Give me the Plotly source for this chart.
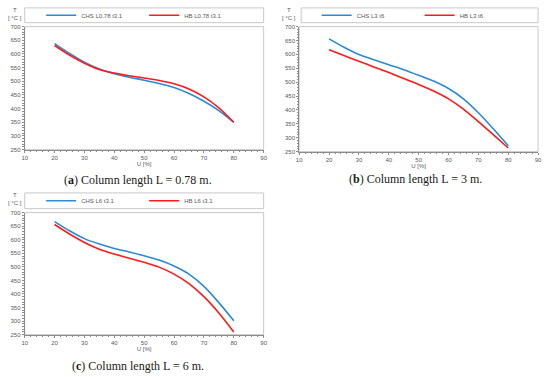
import plotly.graph_objects as go

U = [20, 25, 30, 35, 40, 45, 50, 55, 60, 65, 70, 75, 80]

# Panel (a) L = 0.78 m
chs_a = [638, 602, 570, 545, 528, 515, 504, 492, 477, 455, 427, 393, 350]
hb_a = [631, 596, 566, 543, 530, 520, 512, 503, 491, 472, 443, 403, 350]
# Panel (b) L = 3 m
chs_b = [656, 626, 600, 581, 563, 545, 525, 504, 477, 440, 390, 332, 271]
hb_b = [617, 596, 575, 555, 535, 513, 492, 468, 440, 403, 358, 311, 263]
# Panel (c) L = 6 m
chs_c = [667, 633, 604, 584, 568, 555, 541, 525, 503, 473, 428, 368, 301]
hb_c = [656, 621, 590, 565, 547, 532, 517, 499, 473, 438, 390, 330, 260]

names = [("CHS L0.78 t3.1", "HB L0.78 t3.1"),
         ("CHS L3 t6", "HB L3 t6"),
         ("CHS L6 t3.1", "HB L6 t3.1")]
captions = ["(<b>a</b>) Column length L = 0.78 m.",
            "(<b>b</b>) Column length L = 3 m.",
            "(<b>c</b>) Column length L = 6 m."]

x_ticks = list(range(10, 100, 10))
y_ticks = list(range(250, 750, 50))

W, H = 550, 377
BLUE = "#2a8ad8"
RED = "#ff1a1a"

# pixel layout: (x0, x1, ytop, ybottom) of plot areas
areas = [(22, 264, 24, 149), (300, 542, 24, 151), (22, 264, 213, 337)]
legend_boxes = [(22, 264, 5, 20), (302, 542, 5, 20), (22, 264, 193, 209)]
caption_pos = [(137, 180), (418, 179), (137, 369)]

def px(x):
    return x / W

def py(y):
    return 1 - y / H

fig = go.Figure()
data = [(chs_a, hb_a), (chs_b, hb_b), (chs_c, hb_c)]
tickfont = dict(family="Liberation Sans", size=6, color="#595959")

for i, ((c, h), (n1, n2)) in enumerate(zip(data, names)):
    k = "" if i == 0 else str(i + 1)
    leg = "legend" + k
    fig.add_trace(go.Scatter(x=U, y=c, name=n1, mode="lines",
                             line=dict(color=BLUE, width=1.6, shape="spline",
                                       smoothing=0.9),
                             xaxis="x" + k, yaxis="y" + k, legend=leg))
    fig.add_trace(go.Scatter(x=U, y=h, name=n2, mode="lines",
                             line=dict(color=RED, width=1.6, shape="spline",
                                       smoothing=0.9),
                             xaxis="x" + k, yaxis="y" + k, legend=leg))
    x0, x1, yt, yb = areas[i]
    common = dict(showgrid=False, zeroline=False, showline=True,
                  linecolor="#8c8c8c", linewidth=1, ticks="outside",
                  ticklen=2, tickcolor="#8c8c8c", tickfont=tickfont)
    fig.update_layout(**{
        "xaxis" + k: dict(domain=[px(x0), px(x1)], range=[10, 90],
                          tickvals=x_ticks, anchor="y" + k,
                          minor=dict(dtick=2, ticks="outside", ticklen=1.5,
                                     tickcolor="#8c8c8c"),
                          title=dict(text="U [%]", standoff=1,
                                     font=dict(family="Liberation Sans", size=6,
                                               color="#595959")),
                          **common),
        "yaxis" + k: dict(domain=[py(yb), py(yt)], range=[250, 700],
                          tickvals=y_ticks, anchor="x" + k,
                          minor=dict(dtick=10, ticks="outside", ticklen=1.5,
                                     tickcolor="#8c8c8c"),
                          **common),
    })
    # plot area frame
    fig.add_shape(type="rect", xref="x" + k + " domain", yref="y" + k + " domain",
                  x0=0, x1=1, y0=0, y1=1, line=dict(color="#c8c8c8", width=1),
                  layer="below")
    # legend box
    lx0, lx1, lyt, lyb = legend_boxes[i]
    fig.add_shape(type="rect", xref="paper", yref="paper",
                  x0=px(lx0), x1=px(lx1), y0=py(lyb), y1=py(lyt),
                  line=dict(color="#c8c8c8", width=1))
    fig.update_layout(**{leg: dict(
        orientation="h", x=px((lx0 + lx1) / 2), xanchor="center",
        y=py((lyt + lyb) / 2), yanchor="middle", bgcolor="rgba(0,0,0,0)",
        borderwidth=0, font=dict(family="Liberation Sans", size=6, color="#595959"),
        itemwidth=30, entrywidth=58, entrywidthmode="pixels",
        tracegroupgap=0)})
    # T [°C] labels
    fig.add_annotation(x=px(x0 - 10), y=py(lyt + 2), xref="paper", yref="paper",
                       text="T", showarrow=False, xanchor="center", yanchor="middle",
                       font=dict(family="Liberation Sans", size=6, color="#595959"))
    fig.add_annotation(x=px(x0 - 10), y=py(lyt + 10), xref="paper", yref="paper",
                       text="[ °C ]", showarrow=False, xanchor="center", yanchor="middle",
                       font=dict(family="Liberation Sans", size=6, color="#595959"))
    cx, cy = caption_pos[i]
    fig.add_annotation(x=px(cx), y=py(cy), xref="paper", yref="paper",
                       text=captions[i], showarrow=False, xanchor="center",
                       yanchor="middle",
                       font=dict(family="Liberation Serif", size=12, color="#1a1a1a"))

fig.update_layout(width=W, height=H, margin=dict(l=0, r=0, t=0, b=0),
                  paper_bgcolor="white", plot_bgcolor="white", showlegend=True)

fig.write_html("out.html", config={"displayModeBar": False},
               post_script="document.body.style.margin='0';")
